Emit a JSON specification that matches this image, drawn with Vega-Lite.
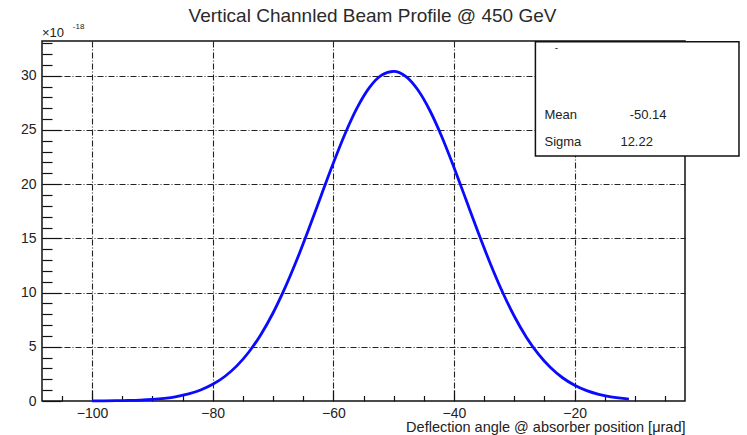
{
  "$schema": "https://vega.github.io/schema/vega-lite/v6.json",
  "width": 643,
  "height": 360,
  "autosize": {"type": "none"},
  "padding": {"left": 42, "top": 41, "right": 62, "bottom": 34},
  "background": "white",
  "config": {
    "font": "Liberation Sans",
    "view": {"stroke": "#111111", "strokeWidth": 1.5},
    "axis": {
      "domain": false,
      "labelFont": "Liberation Sans",
      "labelFontSize": 14,
      "labelColor": "#222222",
      "labelOverlap": false,
      "tickColor": "#111111",
      "tickWidth": 1.2,
      "tickCount": 200,
      "gridColor": "#222222",
      "gridWidth": 1.1,
      "gridDash": [6, 2, 1, 2]
    }
  },
  "title": {
    "text": "Vertical Channled Beam Profile @ 450 GeV",
    "font": "Liberation Sans",
    "fontSize": 19,
    "fontWeight": "normal",
    "color": "#2a2a2a",
    "anchor": "middle",
    "frame": "group",
    "dx": 9,
    "dy": 16,
    "offset": -2,
    "baseline": "alphabetic"
  },
  "layer": [
    {
      "data": {
        "values": [
          {"x": -100, "y": 0.0074}, {"x": -98, "y": 0.0142}, {"x": -96, "y": 0.0266},
          {"x": -94, "y": 0.0485}, {"x": -92, "y": 0.086}, {"x": -90, "y": 0.149},
          {"x": -88, "y": 0.25}, {"x": -86, "y": 0.41}, {"x": -84, "y": 0.654},
          {"x": -82, "y": 1.016}, {"x": -80, "y": 1.536}, {"x": -78, "y": 2.26},
          {"x": -76, "y": 3.239}, {"x": -74, "y": 4.519}, {"x": -72, "y": 6.137},
          {"x": -70, "y": 8.117}, {"x": -68, "y": 10.45}, {"x": -66, "y": 13.09},
          {"x": -64, "y": 15.98}, {"x": -62, "y": 18.98}, {"x": -60, "y": 21.95},
          {"x": -58, "y": 24.72}, {"x": -56, "y": 27.1}, {"x": -54, "y": 28.92},
          {"x": -52, "y": 30.05}, {"x": -50, "y": 30.4}, {"x": -48, "y": 29.94},
          {"x": -46, "y": 28.7}, {"x": -44, "y": 26.79}, {"x": -42, "y": 24.35},
          {"x": -40, "y": 21.54}, {"x": -38, "y": 18.56}, {"x": -36, "y": 15.56},
          {"x": -34, "y": 12.71}, {"x": -32, "y": 10.1}, {"x": -30, "y": 7.817},
          {"x": -28, "y": 5.888}, {"x": -26, "y": 4.32}, {"x": -24, "y": 3.086},
          {"x": -22, "y": 2.144}, {"x": -20, "y": 1.452}, {"x": -18, "y": 0.957},
          {"x": -16, "y": 0.614}, {"x": -14, "y": 0.383}, {"x": -12, "y": 0.233},
          {"x": -11, "y": 0.18}
        ]
      },
      "mark": {"type": "line", "color": "#0a0aff", "strokeWidth": 2.8, "interpolate": "monotone"},
      "encoding": {
        "x": {
          "field": "x",
          "type": "quantitative",
          "scale": {"domain": [-108.3, -1.7], "nice": false, "zero": false},
          "axis": {
            "values": [-105, -100, -95, -90, -85, -80, -75, -70, -65, -60, -55, -50, -45, -40, -35, -30, -25, -20, -15, -10, -5],
            "tickCount": 200,
            "format": "d",
            "labelExpr": "datum.value % 20 === 0 ? datum.label : ''",
            "labelPadding": 16,
            "tickSize": {"condition": {"test": "datum.value % 20 === 0", "value": -11}, "value": -5.5},
            "grid": true,
            "gridOpacity": {"condition": {"test": "datum.value % 20 === 0", "value": 1}, "value": 0},
            "title": "Deflection angle @ absorber position [μrad]",
            "titleFont": "Liberation Sans",
            "titleFontSize": 14.5,
            "titleFontWeight": "normal",
            "titleColor": "#222222",
            "titleAnchor": "end",
            "titlePadding": -5
          }
        },
        "y": {
          "field": "y",
          "type": "quantitative",
          "scale": {"domain": [0, 33.2], "nice": false, "zero": false},
          "axis": {
            "values": [0, 1, 2, 3, 4, 5, 6, 7, 8, 9, 10, 11, 12, 13, 14, 15, 16, 17, 18, 19, 20, 21, 22, 23, 24, 25, 26, 27, 28, 29, 30, 31, 32, 33],
            "tickCount": 200,
            "format": "d",
            "labelExpr": "datum.value % 5 === 0 ? datum.label : ''",
            "labelPadding": 25,
            "tickSize": {"condition": {"test": "datum.value % 5 === 0", "value": -19}, "value": -10},
            "grid": true,
            "gridOpacity": {"condition": {"test": "datum.value % 5 === 0 && datum.value > 0", "value": 1}, "value": 0},
            "title": null
          }
        }
      }
    },
    {
      "data": {"values": [{}]},
      "mark": {"type": "rect", "fill": "white", "stroke": "#111111", "strokeWidth": 1.5, "clip": false},
      "encoding": {
        "x": {"datum": -26.5, "type": "quantitative"},
        "x2": {"datum": 7.25},
        "y": {"datum": 33.12, "type": "quantitative"},
        "y2": {"datum": 22.6}
      }
    },
    {
      "data": {"values": [{}]},
      "mark": {"type": "text", "text": "-", "fontSize": 10, "align": "left", "baseline": "middle", "color": "#333333"},
      "encoding": {"x": {"datum": -23.3, "type": "quantitative"}, "y": {"datum": 32.6, "type": "quantitative"}}
    },
    {
      "data": {"values": [{}]},
      "mark": {"type": "text", "text": "Mean", "fontSize": 13, "align": "left", "baseline": "middle", "color": "#222222"},
      "encoding": {"x": {"datum": -25.0, "type": "quantitative"}, "y": {"datum": 26.37, "type": "quantitative"}}
    },
    {
      "data": {"values": [{}]},
      "mark": {"type": "text", "text": "-50.14", "fontSize": 13, "align": "left", "baseline": "middle", "color": "#222222"},
      "encoding": {"x": {"datum": -10.87, "type": "quantitative"}, "y": {"datum": 26.37, "type": "quantitative"}}
    },
    {
      "data": {"values": [{}]},
      "mark": {"type": "text", "text": "Sigma", "fontSize": 13, "align": "left", "baseline": "middle", "color": "#222222"},
      "encoding": {"x": {"datum": -25.0, "type": "quantitative"}, "y": {"datum": 23.89, "type": "quantitative"}}
    },
    {
      "data": {"values": [{}]},
      "mark": {"type": "text", "text": "12.22", "fontSize": 13, "align": "left", "baseline": "middle", "color": "#222222"},
      "encoding": {"x": {"datum": -12.41, "type": "quantitative"}, "y": {"datum": 23.89, "type": "quantitative"}}
    },
    {
      "data": {"values": [{}]},
      "mark": {"type": "text", "text": "×10", "fontSize": 13, "align": "left", "baseline": "middle", "color": "#222222"},
      "encoding": {"x": {"datum": -108.3, "type": "quantitative"}, "y": {"datum": 33.95, "type": "quantitative"}}
    },
    {
      "data": {"values": [{}]},
      "mark": {"type": "text", "text": "-18", "fontSize": 8, "align": "left", "baseline": "middle", "color": "#222222"},
      "encoding": {"x": {"datum": -103.2, "type": "quantitative"}, "y": {"datum": 34.5, "type": "quantitative"}}
    }
  ]
}
